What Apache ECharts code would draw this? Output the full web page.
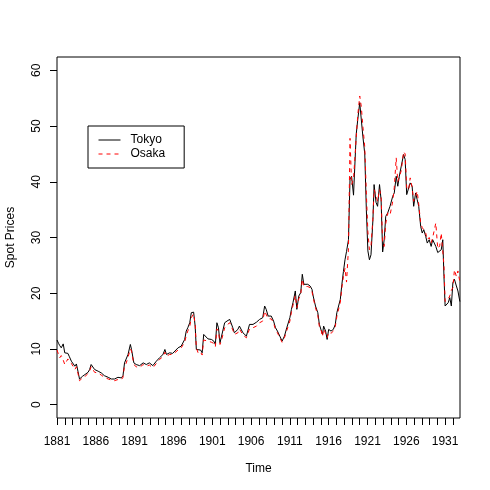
<!DOCTYPE html>
<html><head><meta charset="utf-8">
<script src="https://cdn.jsdelivr.net/npm/echarts@6/dist/echarts.min.js"></script>
<style>html,body{margin:0;padding:0;background:#fff}#c{width:490px;height:490px}</style>
</head><body><div id="c"></div>
<script>
const times = [1881.0,1881.2,1881.35,1881.55,1881.8,1882.0,1882.2,1882.4,1882.6,1882.85,1883.1,1883.3,1883.5,1883.7,1883.9,1884.1,1884.3,1884.6,1884.85,1885.0,1885.2,1885.4,1885.6,1885.85,1886.1,1886.3,1886.7,1887.1,1887.6,1888.0,1888.4,1888.85,1889.0,1889.3,1889.5,1889.7,1889.9,1890.15,1890.45,1890.6,1890.9,1891.2,1891.65,1892.1,1892.5,1892.9,1893.35,1893.8,1894.2,1894.65,1894.9,1895.1,1895.5,1895.9,1896.15,1896.6,1897.0,1897.45,1897.65,1897.85,1898.1,1898.3,1898.6,1898.8,1898.95,1899.2,1899.5,1899.7,1899.9,1900.15,1900.45,1900.9,1901.2,1901.4,1901.6,1901.8,1902.0,1902.2,1902.6,1902.9,1903.25,1903.5,1903.65,1903.85,1904.3,1904.5,1904.95,1905.4,1905.8,1906.25,1906.7,1907.1,1907.5,1907.75,1907.95,1908.2,1908.6,1908.9,1909.15,1909.4,1909.7,1910.0,1910.3,1910.6,1911.0,1911.2,1911.4,1911.7,1911.9,1912.15,1912.4,1912.6,1912.8,1913.0,1913.3,1913.6,1913.85,1914.0,1914.3,1914.6,1914.8,1915.0,1915.2,1915.35,1915.6,1915.8,1916.0,1916.3,1916.6,1916.85,1917.05,1917.25,1917.5,1917.7,1917.9,1918.1,1918.3,1918.55,1918.75,1918.95,1919.2,1919.55,1919.75,1920.0,1920.2,1920.4,1920.65,1920.85,1921.05,1921.25,1921.45,1921.7,1921.85,1922.1,1922.3,1922.55,1922.75,1922.95,1923.15,1923.35,1923.6,1923.9,1924.25,1924.45,1924.7,1924.9,1925.1,1925.35,1925.65,1925.85,1926.05,1926.3,1926.5,1926.75,1926.95,1927.2,1927.4,1927.6,1927.85,1928.05,1928.25,1928.5,1928.7,1928.95,1929.2,1929.4,1929.6,1929.8,1930.05,1930.3,1930.5,1930.7,1930.85,1931.0,1931.4,1931.6,1931.8,1932.0,1932.2,1932.45,1932.65,1932.9];

const tokyo = [11.6,11.0,10.6,10.2,10.9,9.3,9.6,9.2,8.6,7.8,7.5,6.9,7.3,6.0,4.6,4.9,5.1,5.4,5.7,5.8,6.3,7.2,7.5,6.3,6.2,6.0,5.7,5.2,4.9,4.6,4.6,4.9,5.1,4.8,5.2,7.5,7.8,9.0,10.8,9.9,7.5,7.2,7.0,7.5,7.2,7.5,7.0,7.8,8.4,9.0,9.9,9.0,9.3,9.2,9.4,10.2,10.5,11.7,13.2,13.8,14.7,16.5,16.6,14.1,9.9,9.6,9.8,9.3,12.6,12.3,11.8,11.7,11.4,10.8,14.7,13.8,11.1,12.3,14.7,15.0,15.3,15.3,13.8,12.9,13.5,14.1,12.9,12.3,14.4,14.4,14.8,15.3,15.6,17.7,17.1,15.9,15.9,15.0,13.8,13.2,12.3,11.4,12.3,13.8,15.6,17.1,18.3,20.4,17.1,19.5,20.1,23.4,21.6,21.9,21.6,21.3,20.7,19.5,17.7,16.5,14.4,14.1,12.6,14.1,13.2,11.7,13.5,13.2,13.5,14.4,16.5,16.2,18.9,21.6,23.9,26.0,27.5,29.6,40.5,41.0,37.6,48.6,51.2,54.2,54.5,48.2,45.0,35.0,27.6,26.0,26.9,33.2,39.5,36.3,35.6,39.5,36.8,27.4,29.6,33.8,34.4,35.6,37.4,38.0,41.0,39.2,41.0,42.8,44.9,44.0,37.7,38.0,39.8,39.2,35.6,38.0,36.8,35.6,32.0,30.8,31.4,30.2,29.0,29.6,28.4,29.6,29.0,28.4,27.3,27.3,27.8,29.6,23.0,17.7,18.3,19.2,17.7,21.9,22.5,21.3,20.4,18.5];

const osaka = [9.8,9.0,8.4,8.8,8.0,7.2,7.5,8.2,8.0,7.4,6.8,6.3,6.8,5.6,4.3,4.6,4.8,5.0,5.4,5.5,6.0,6.8,7.0,5.8,5.6,5.7,5.3,4.9,4.6,4.4,4.3,4.5,4.8,4.5,4.9,7.0,7.4,8.5,10.0,9.6,7.2,6.8,6.7,7.2,6.9,7.1,6.6,7.4,8.1,8.6,9.4,8.7,9.0,9.0,9.2,9.8,10.2,11.2,12.4,13.2,14.0,15.6,16.3,14.4,10.2,9.2,9.4,8.9,11.6,11.9,11.4,11.2,11.0,10.4,13.6,13.2,10.8,11.6,13.8,14.3,14.7,14.8,13.4,12.6,12.9,13.6,12.5,12.0,13.6,13.8,14.1,14.7,15.0,16.8,16.6,15.4,15.4,14.7,13.4,12.9,12.0,11.2,12.0,13.3,15.0,16.6,17.8,19.6,17.4,19.0,19.8,22.5,21.2,21.5,21.2,21.0,20.3,19.2,17.4,16.0,14.0,13.6,12.2,13.6,12.8,12.0,13.0,12.8,13.2,14.0,15.8,16.0,18.4,21.0,23.0,24.5,22.0,28.0,47.8,39.5,40.5,48.0,52.0,55.4,53.5,50.0,46.2,38.0,31.0,27.8,28.5,33.5,38.6,37.5,36.5,38.6,37.5,29.0,28.4,32.5,34.4,34.0,36.5,39.0,44.3,40.0,40.2,42.0,45.4,45.0,39.0,38.5,40.7,39.0,36.5,37.5,38.3,36.0,32.5,31.8,31.8,30.8,29.6,30.0,29.0,30.0,30.0,32.6,28.0,28.5,30.8,30.5,25.0,18.5,19.0,19.5,20.5,21.0,24.2,23.0,24.0,22.0];

const yTicks = [0,10,20,30,40,50,60];
const xTickYears = [];
for (let y = 1881; y <= 1932; y++) xTickYears.push(y);
const xLabelYears = [1881,1886,1891,1896,1901,1906,1911,1916,1921,1926,1931];

const font = 'Liberation Sans, Arial, Helvetica, sans-serif';
const chart = echarts.init(document.getElementById('c'), null, {renderer:'canvas'});
chart.setOption({
  animation: false,
  backgroundColor: '#fff',
  grid: {left: 57, right: 30, top: 57, bottom: 72, containLabel: false, outerBoundsMode: 'none',
         show: true, borderColor: '#000', borderWidth: 1, backgroundColor: 'transparent'},
  legend: {
    left: 88, top: 126, orient: 'vertical',
    borderColor: '#000', borderWidth: 1, borderRadius: 0,
    padding: [8, 19, 8, 10], itemGap: 2, itemWidth: 22, itemHeight: 12,
    itemStyle: {opacity: 0},
    lineStyle: {width: 1},
    textStyle: {fontFamily: font, fontSize: 12, color: '#000', padding: [0, 0, 0, 5]},
    data: ['Tokyo', 'Osaka']
  },
  xAxis: {
    type: 'value', min: 1881, max: 1932.917,
    name: 'Time', nameLocation: 'middle', nameGap: 45,
    nameTextStyle: {fontFamily: font, fontSize: 12, color: '#000'},
    splitLine: {show: false},
    axisLine: {show: false, onZero: false},
    axisTick: {show: true, length: 7, lineStyle: {color: '#000'}, customValues: xTickYears},
    axisLabel: {fontFamily: font, fontSize: 12, color: '#000', margin: 18, customValues: xLabelYears, formatter: v => String(v)}
  },
  yAxis: {
    type: 'value', min: -2.4, max: 62.4,
    name: 'Spot Prices', nameLocation: 'middle', nameGap: 40, nameRotate: 90,
    nameTextStyle: {fontFamily: font, fontSize: 12, color: '#000'},
    splitLine: {show: false},
    axisLine: {show: false, onZero: false},
    axisTick: {show: true, length: 7, lineStyle: {color: '#000'}, customValues: yTicks},
    axisLabel: {fontFamily: font, fontSize: 12, color: '#000', margin: 14, rotate: 90, customValues: yTicks, formatter: v => String(v)}
  },
  series: [
    {name: 'Tokyo', type: 'line', symbol: 'none', data: times.map((t,i)=>[t, tokyo[i]]),
     lineStyle: {color: '#000', width: 1}, itemStyle: {color: '#000'}},
    {name: 'Osaka', type: 'line', symbol: 'none', data: times.map((t,i)=>[t, osaka[i]]),
     lineStyle: {color: '#ff0000', width: 1, type: [4,4]}, itemStyle: {color: '#ff0000'}}
  ]
});
</script></body></html>
